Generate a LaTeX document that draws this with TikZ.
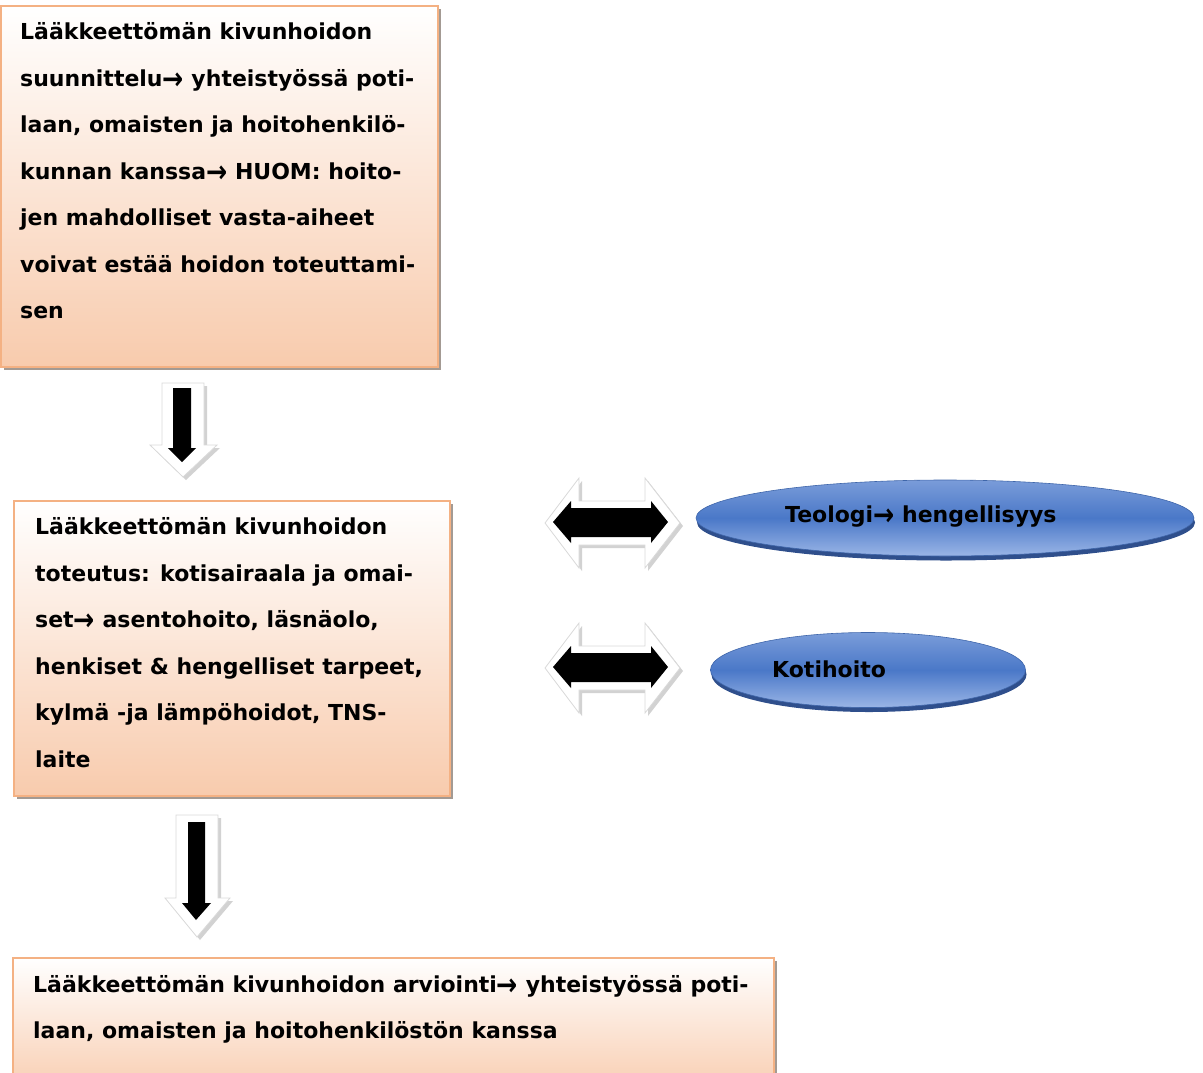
\documentclass[tikz,border=0pt]{standalone}
\usepackage{fontspec}
\setmainfont{DejaVu Sans}
\usetikzlibrary{shapes.geometric,shadows}

\definecolor{peach}{HTML}{F8CBAD}
\definecolor{peachline}{HTML}{F4B183}
\definecolor{boxshadow}{HTML}{A39A93}
\definecolor{bluetop}{HTML}{7A9CD9}
\definecolor{bluemid}{HTML}{4A78C8}
\definecolor{bluebot}{HTML}{9AB5E6}
\definecolor{bluerim}{HTML}{2F4F8C}

% heavy text arrow
\newcommand{\arr}{\raisebox{-2.8pt}{\scalebox{1.15}[1.4]{→}}}

\tikzset{
    every node/.style={font=\fontsize{22}{46.5}\selectfont\bfseries},
    stage/.style={draw=peachline, line width=1.5pt, top color=white, bottom color=peach,
        anchor=north west, inner sep=0pt,
        drop shadow={shadow xshift=3.5pt, shadow yshift=-3.5pt, fill=boxshadow, opacity=1}},
    stagetext/.style={align=left, anchor=north west, inner sep=0pt},
    oval/.style={ellipse, draw=bluemid!85!black, line width=0.6pt, inner sep=0pt,
        top color=bluetop, bottom color=bluebot, middle color=bluemid,
        drop shadow={shadow xshift=1pt, shadow yshift=-4.5pt, fill=bluerim, opacity=1}},
    bevel/.style={fill=white, draw=gray!30, line width=0.8pt}
}

\begin{document}
\begin{tikzpicture}[x=1pt,y=-1pt]
    \useasboundingbox (0,0) rectangle (1203,1072);

    % Boxes
    \node[stage, minimum width=437pt, minimum height=361pt] (plan) at (0,5) {};
    \node[stage, minimum width=436pt, minimum height=295pt] (impl) at (13,500) {};
    \node[stage, minimum width=761pt, minimum height=140pt] (eval) at (12,957) {};

    % Box texts
    \node[stagetext] (plantext) at (20,22.5) {L\"a\"akkeett\"om\"an kivunhoidon\\
        suunnittelu\arr{} yhteisty\"oss\"a poti-\\
        laan, omaisten ja hoitohenkil\"o-\\
        kunnan kanssa\arr{} HUOM: hoito-\\
        jen mahdolliset vasta-aiheet\\
        voivat est\"a\"a hoidon toteuttami-\\
        sen};
    \node[stagetext] (impltext) at (35,517.5) {L\"a\"akkeett\"om\"an kivunhoidon\\
        toteutus: kotisairaala ja omai-\\
        set\arr{} asentohoito, l\"asn\"aolo,\\
        henkiset \& hengelliset tarpeet,\\
        kylm\"a -ja l\"amp\"ohoidot, TNS-\\
        laite};
    \node[stagetext] (evaltext) at (33,975)
        {L\"a\"akkeett\"om\"an kivunhoidon arviointi\arr{} yhteisty\"oss\"a poti-\\
        laan, omaisten ja hoitohenkil\"ost\"on kanssa};

    % Ovals
    \node[oval, minimum width=498pt, minimum height=76pt] (teologi) at (945,518) {};
    \node[oval, minimum width=315pt, minimum height=75pt] (koti) at (868,670) {};
    \node[anchor=west, inner sep=0pt] (teologitext) at (785,517) {Teologi\arr{} hengellisyys};
    \node[anchor=west, inner sep=0pt] (kotitext) at (772,669) {Kotihoito};

    % Down arrows
    \fill[gray!35] (165,386) -- (207,386) -- (207,448) -- (220,448) -- (186,480) -- (153,448) -- (165,448) -- cycle;
    \draw[bevel] (162,383) -- (204,383) -- (204,445) -- (217,445) -- (183,477) -- (150,445) -- (162,445) -- cycle;
    \fill[black] (173,388) -- (191,388) -- (191,448) -- (196,448) -- (182,462) -- (168,448) -- (173,448) -- cycle;

    \fill[gray!35] (179,818) -- (221,818) -- (221,901) -- (233,901) -- (200,940) -- (168,901) -- (179,901) -- cycle;
    \draw[bevel] (176,815) -- (218,815) -- (218,898) -- (230,898) -- (197,937) -- (165,898) -- (176,898) -- cycle;
    \fill[black] (188,822) -- (205,822) -- (205,903) -- (211,903) -- (196,920) -- (182,903) -- (188,903) -- cycle;

    % Double arrows
    \foreach \cy in {523,668} {
        \fill[gray!35] (548,\cy+3) -- (582,\cy-42) -- (582,\cy-19) -- (648,\cy-19) -- (648,\cy-42)
            -- (683,\cy+3) -- (648,\cy+48) -- (648,\cy+25) -- (582,\cy+25) -- (582,\cy+48) -- cycle;
        \draw[bevel] (545,\cy) -- (579,\cy-45) -- (579,\cy-22) -- (645,\cy-22) -- (645,\cy-45)
            -- (680,\cy) -- (645,\cy+45) -- (645,\cy+22) -- (579,\cy+22) -- (579,\cy+45) -- cycle;
        \fill[black] (553,\cy-1) -- (571,\cy-22) -- (571,\cy-15) -- (651,\cy-15) -- (651,\cy-22)
            -- (668,\cy-1) -- (651,\cy+20) -- (651,\cy+14) -- (571,\cy+14) -- (571,\cy+20) -- cycle;
    }
\end{tikzpicture}
\end{document}
